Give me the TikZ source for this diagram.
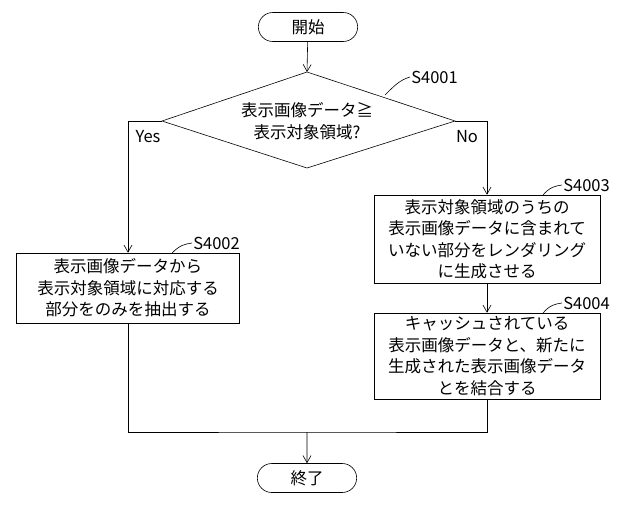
\documentclass[tikz,border=0pt]{standalone}
\usepackage{fontspec}
\setmainfont{Noto Sans CJK JP}
\usetikzlibrary{shapes.geometric,shapes.misc,arrows.meta}
\tikzset{
  proc/.style={draw,rectangle,align=center,inner sep=0pt},
  term/.style={draw,rounded rectangle,minimum width=106pt,minimum height=29pt},
  flow/.style={-{Straight Barb[length=7pt,width=8pt]}},
}
\begin{document}
\begin{tikzpicture}[x=1pt,y=-1pt,semithick,font=\fontsize{16.5}{21.5}\selectfont]
\useasboundingbox (0,0) rectangle (640,504);
\node[term] (start) at (308,27) {開始};
\draw (162,121) -- (307,72) -- (455,121) -- (307,168) -- cycle;
\coordinate (dtop) at (307,72);
\coordinate (dleft) at (162,121);
\coordinate (dright) at (455,121);
\node (cond) at (307,121) [align=center] {表示画像データ≧\\表示対象領域?};
\node[proc,minimum width=223pt,minimum height=70pt] (s4002) at (128,288) {表示画像データから\\表示対象領域に対応する\\部分をのみを抽出する};
\node[proc,minimum width=226pt,minimum height=88pt] (s4003) at (487,239) {表示対象領域のうちの\\表示画像データに含まれて\\いない部分をレンダリング\\に生成させる};
\node[proc,minimum width=226pt,minimum height=86pt] (s4004) at (487,356) {キャッシュされている\\表示画像データと、新たに\\生成された表示画像データ\\とを結合する};
\node[term] (stop) at (307,478) {終了};
\coordinate (merge) at (307,432);
% connectors
\draw[flow] (start) -- (dtop);
\draw[flow] (dleft) -| (s4002.north);
\draw[flow] (dright) -| (s4003.north);
\draw[flow] (s4003) -- (s4004);
\draw (s4002.south) |- (merge) -| (s4004.south);
\draw[flow] (merge) -- (stop);
% labels
\node at (148,137) {Yes};
\node at (467,137) {No};
\draw (385,95) .. controls (395,85) and (400,80) .. (410,77) node[right,inner sep=1pt] {S4001};
\draw (172,253) .. controls (180,245) and (185,244) .. (192,243) node[right,inner sep=1pt] {S4002};
\draw (543,195) .. controls (550,187) and (555,186) .. (562,185) node[right,inner sep=1pt] {S4003};
\draw (543,313) .. controls (550,305) and (555,304) .. (562,303) node[right,inner sep=1pt] {S4004};
\end{tikzpicture}
\end{document}
